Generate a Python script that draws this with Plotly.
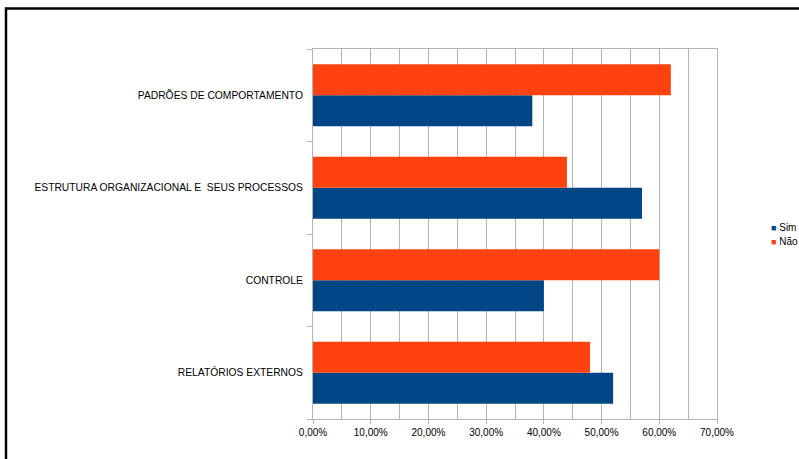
import plotly.graph_objects as go

categories = [
    "PADRÕES DE COMPORTAMENTO",
    "ESTRUTURA ORGANIZACIONAL E  SEUS PROCESSOS",
    "CONTROLE",
    "RELATÓRIOS EXTERNOS",
]
sim = [0.38, 0.57, 0.40, 0.52]
nao = [0.62, 0.44, 0.60, 0.48]
x_ticks = [0, 0.1, 0.2, 0.3, 0.4, 0.5, 0.6, 0.7]
series_names = ["Sim", "Não"]
series_colors = ["#004586", "#ff420e"]

fig = go.Figure()
for name, vals, col in zip(series_names, [sim, nao], series_colors):
    fig.add_trace(go.Bar(name=name, y=categories, x=vals, orientation="h",
                         marker=dict(color=col, line_width=0), showlegend=False))

fig.update_layout(
    width=799, height=459,
    margin=dict(l=313, r=82, t=49, b=40, autoexpand=False),
    paper_bgcolor="white", plot_bgcolor="white",
    barmode="group", bargap=0.33, bargroupgap=0,
    separators=",.",
    font=dict(family="Liberation Sans, Arial, sans-serif", size=10, color="#000000"),
    showlegend=False,
)

fig.update_xaxes(
    range=[0, 0.7], tickvals=x_ticks, tickformat=".2%",
    showgrid=True, gridcolor="#b3b3b3", gridwidth=1,
    minor=dict(dtick=0.05, showgrid=True, gridcolor="#b3b3b3", gridwidth=1, ticks=""),
    ticks="outside", ticklen=4, tickcolor="#b3b3b3",
    showline=True, linecolor="#b3b3b3", linewidth=1, mirror=True,
    zeroline=False, fixedrange=True,
)
# first category at the top, first series at the bottom of each group
fig.update_yaxes(
    categoryorder="array", categoryarray=categories[::-1],
    tickson="boundaries", ticks="outside", ticklen=5, tickcolor="#b3b3b3",
    ticklabelstandoff=7, tickfont=dict(size=10.3),
    showgrid=False, showline=True, linecolor="#b3b3b3", linewidth=1, mirror=True,
    fixedrange=True,
)

# legend entries: coloured square + series name
for i, (name, col) in enumerate(zip(series_names, series_colors)):
    fig.add_annotation(
        xref="paper", yref="paper",
        x=(769 - 313) / 404, y=(419 - (227 + 14 * i)) / 370,
        xanchor="left", yanchor="middle", showarrow=False,
        text=f"<span style='color:{col};font-size:9px'>■</span> {name}",
        font=dict(size=10, color="#000000"),
    )

# black frame around the chart
fig.add_shape(type="rect", xref="paper", yref="paper",
              x0=(6 - 313) / 404, x1=(820 - 313) / 404,
              y0=(419 - 480) / 370, y1=(419 - 8.5) / 370,
              line=dict(color="black", width=2.5), fillcolor="rgba(0,0,0,0)",
              layer="below")

fig.write_html("out.html")
